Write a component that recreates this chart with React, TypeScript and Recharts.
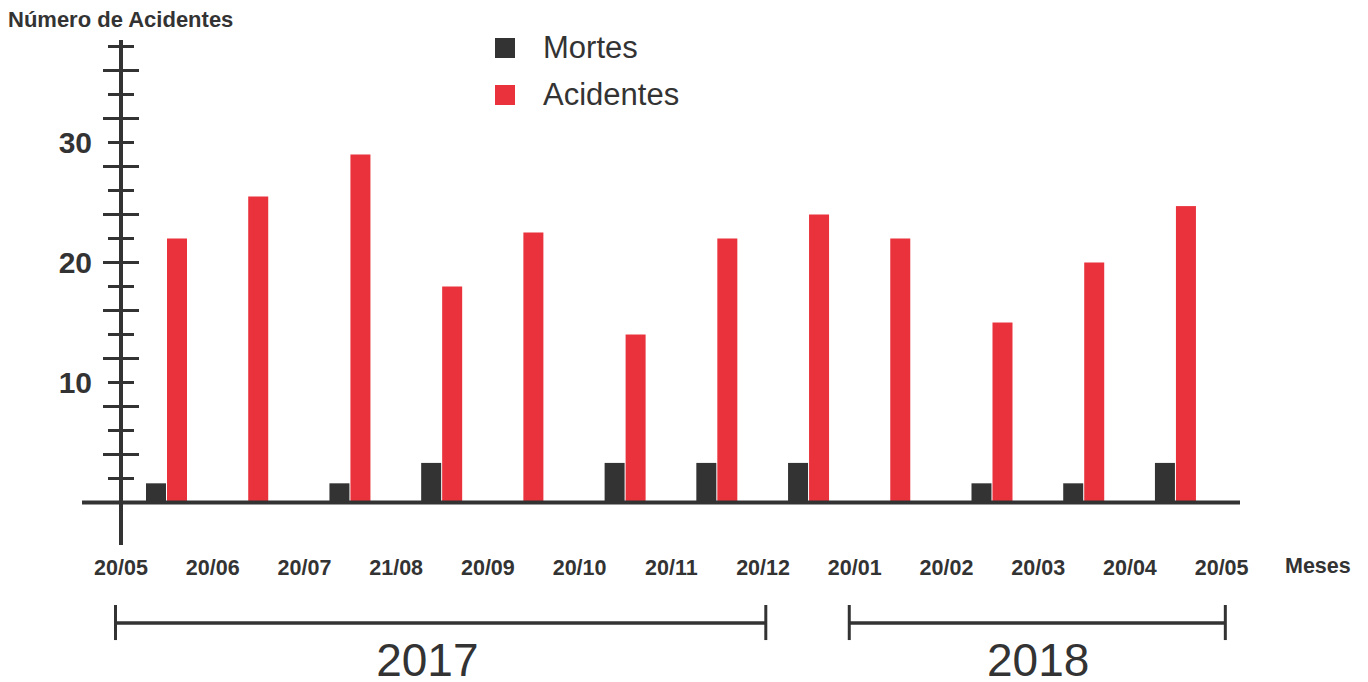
import React from "react";
import { BarChart, Bar, XAxis, YAxis, ReferenceLine, ReferenceDot, Legend } from "recharts";

// month boundaries (labels sit between the bar groups)
const MONTHS = ["20/05", "20/06", "20/07", "21/08", "20/09", "20/10", "20/11", "20/12", "20/01", "20/02", "20/03", "20/04", "20/05"];
const MORTES = [1.6, 0, 1.6, 3.3, 0, 3.3, 3.3, 3.3, 0, 1.6, 1.6, 3.3];
const ACIDENTES = [22, 25.5, 29, 18, 22.5, 14, 22, 24, 22, 15, 20, 24.7];
const Y_TICKS = [2, 4, 6, 8, 10, 12, 14, 16, 18, 20, 22, 24, 26, 28, 30, 32, 34, 36, 38];

const YEARS = [
  { label: "2017", from: -0.06, to: 7.03, labelAt: 3.34 },
  { label: "2018", from: 7.94, to: 12.04, labelAt: 10.0 },
];

const FONT = '"Liberation Sans", Arial, Helvetica, sans-serif';
const INK = "#333333";
const RED = "#e9323b";

const SERIES = [
  { key: "mortes", name: "Mortes", color: INK },
  { key: "acidentes", name: "Acidentes", color: RED },
];

const data = MORTES.map((m, i) => ({ x: i + 0.5, mortes: m, acidentes: ACIDENTES[i] }));

function YTick(props: any) {
  const { x, y, payload } = props;
  const v = Number(payload?.value);
  const half = v % 4 === 0 ? 18 : 13;
  return (
    <g>
      <line x1={x - half} x2={x + half} y1={y} y2={y} stroke={INK} strokeWidth={3} />
      {v % 10 === 0 && (
        <text
          x={x - 29}
          y={y}
          dy="0.36em"
          textAnchor="end"
          fill={INK}
          style={{ fontFamily: FONT, fontSize: 30, fontWeight: 700 }}
        >
          {v}
        </text>
      )}
    </g>
  );
}

// when a month has no deaths the red bar sits in the middle of its group
function AcidentesBar(props: any) {
  const { x, y, width, height, payload, fill } = props;
  if (!height || height <= 0) return null;
  const shift = payload && payload.mortes === 0 ? -(width + 1) / 2 : 0;
  return <rect x={x + shift} y={y} width={width} height={height} fill={fill} />;
}

function LegendBox() {
  return (
    <div style={{ fontFamily: FONT, color: INK }}>
      {SERIES.map((s) => (
        <div key={s.key} style={{ display: "flex", alignItems: "center", height: 47 }}>
          <span style={{ width: 20, height: 20, background: s.color, display: "inline-block" }} />
          <span style={{ marginLeft: 28, fontSize: 31, lineHeight: "47px" }}>{s.name}</span>
        </div>
      ))}
    </div>
  );
}

export default function App() {
  return (
    <div style={{ position: "absolute", left: 0, top: 0, width: 1368, height: 682, background: "#fff" }}>
      <div
        style={{
          position: "absolute",
          left: 8,
          top: 9,
          fontFamily: FONT,
          fontSize: 22,
          fontWeight: 700,
          lineHeight: 1,
          color: INK,
          zIndex: 2,
        }}
      >
        Número de Acidentes
      </div>
      <div
        style={{
          position: "absolute",
          left: 1285,
          top: 556,
          fontFamily: FONT,
          fontSize: 21.5,
          fontWeight: 700,
          lineHeight: 1,
          color: INK,
          zIndex: 2,
        }}
      >
        Meses
      </div>
      <BarChart
        width={1368}
        height={682}
        data={data}
        margin={{ top: 40, right: 128, bottom: 97, left: 0 }}
        barGap={1}
        barSize={20}
      >
        <XAxis
          type="number"
          dataKey="x"
          domain={[0, 12.2]}
          allowDataOverflow
          ticks={MONTHS.map((_, i) => i)}
          interval={0}
          tickFormatter={(v: number) => MONTHS[v]}
          axisLine={false}
          tickLine={false}
          tickSize={0}
          tickMargin={15}
          height={40}
          tick={{ fill: INK, fontSize: 21.5, fontWeight: 700, fontFamily: FONT }}
        />
        <YAxis
          type="number"
          domain={[-3.54, 38.54]}
          allowDataOverflow
          ticks={Y_TICKS}
          interval={0}
          width={121}
          tickSize={0}
          tickMargin={0}
          tickLine={false}
          axisLine={{ stroke: INK, strokeWidth: 4 }}
          tick={<YTick />}
        />
        <Legend
          layout="vertical"
          align="center"
          verticalAlign="middle"
          wrapperStyle={{ left: 495, top: 24, width: 260 }}
          content={() => <LegendBox />}
        />
        <Bar dataKey="mortes" name="Mortes" fill={INK} isAnimationActive={false} />
        <Bar
          dataKey="acidentes"
          name="Acidentes"
          fill={RED}
          shape={<AcidentesBar />}
          isAnimationActive={false}
        />
        <ReferenceLine
          segment={[{ x: -0.425, y: 0 }, { x: 12.2, y: 0 }]}
          stroke={INK}
          strokeWidth={4}
          ifOverflow="visible"
        />
        {YEARS.map((yr) => (
          <React.Fragment key={yr.label}>
            <ReferenceLine
              segment={[{ x: yr.from, y: -10.04 }, { x: yr.to, y: -10.04 }]}
              stroke={INK}
              strokeWidth={3.5}
              ifOverflow="visible"
            />
            <ReferenceLine
              segment={[{ x: yr.from, y: -8.54 }, { x: yr.from, y: -11.46 }]}
              stroke={INK}
              strokeWidth={3}
              ifOverflow="visible"
            />
            <ReferenceLine
              segment={[{ x: yr.to, y: -8.54 }, { x: yr.to, y: -11.46 }]}
              stroke={INK}
              strokeWidth={3}
              ifOverflow="visible"
            />
            <ReferenceDot
              x={yr.labelAt}
              y={-13.1}
              r={0}
              fill="none"
              stroke="none"
              ifOverflow="visible"
              label={{
                value: yr.label,
                position: "center",
                fill: INK,
                fontSize: 46,
                fontFamily: FONT,
              }}
            />
          </React.Fragment>
        ))}
      </BarChart>
    </div>
  );
}
